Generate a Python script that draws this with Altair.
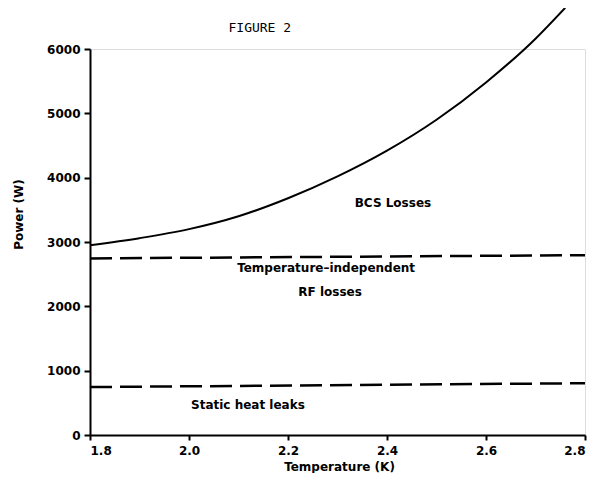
import altair as alt
import pandas as pd

# BCS losses curve (total power incl. RF + static)
bcs_T = [1.8, 1.9, 2.0, 2.1, 2.2, 2.3, 2.4, 2.5, 2.6, 2.7, 2.76]
bcs_P = [2950, 3060, 3200, 3400, 3680, 4020, 4420, 4900, 5480, 6160, 6640]

# dashed boundaries
rf_T = [1.8, 2.8]
rf_P = [2745, 2795]
static_T = [1.8, 2.8]
static_P = [745, 805]

# annotations
ann_text = ["BCS Losses", "Temperature\u2013independent", "RF losses", "Static heat leaks"]
ann_T = [2.412, 2.277, 2.285, 2.119]
ann_P = [3606, 2596, 2223, 466]

fig_title = ["FIGURE 2"]
fig_T = [2.143]
fig_P = [6327]

x_ticks = [1.8, 2.0, 2.2, 2.4, 2.6, 2.8]
y_ticks = [0, 1000, 2000, 3000, 4000, 5000, 6000]

FONT = "DejaVu Sans"

df_bcs = pd.DataFrame({"T": bcs_T, "P": bcs_P})
df_dash = pd.DataFrame({
    "T": rf_T + static_T,
    "P": rf_P + static_P,
    "s": ["rf"] * len(rf_T) + ["static"] * len(static_T),
})
df_ann = pd.DataFrame({"T": ann_T, "P": ann_P, "t": ann_text})
df_fig = pd.DataFrame({"T": fig_T, "P": fig_P, "t": fig_title})

xs = alt.Scale(domain=[1.8, 2.8], nice=False, zero=False)
ys = alt.Scale(domain=[0, 6000], nice=False)

xax = alt.Axis(values=x_ticks, format=".1f", title="Temperature (K)", grid=False,
               domainColor="black", domainWidth=2, tickColor="black", tickWidth=2, tickSize=5,
               labelColor="black", labelFont=FONT, labelFontSize=12, labelFontWeight="bold", labelPadding=5,
               titleFont=FONT, titleFontSize=12, titleFontWeight="bold", titleColor="black",
               titleX=249, titleY=31, titleBaseline="middle", titleAnchor="start", titleAlign="center")
yax = alt.Axis(values=y_ticks, format="d", title="Power (W)", grid=False,
               domainColor="black", domainWidth=2, tickColor="black", tickWidth=2, tickSize=6,
               labelColor="black", labelFont=FONT, labelFontSize=12, labelFontWeight="bold", labelPadding=4,
               titleFont=FONT, titleFontSize=12, titleFontWeight="bold", titleColor="black",
               titleX=-72, titleY=165, titleBaseline="middle", titleAngle=-90,
               titleAnchor="start", titleAlign="center")

curve = alt.Chart(df_bcs).mark_line(color="black", strokeWidth=2, clip=False, interpolate="monotone").encode(
    x=alt.X("T:Q", scale=xs, axis=xax),
    y=alt.Y("P:Q", scale=ys, axis=yax),
)

dashes = alt.Chart(df_dash).mark_line(color="black", strokeWidth=2.5, strokeDash=[22, 8]).encode(
    x=alt.X("T:Q", scale=xs),
    y=alt.Y("P:Q", scale=ys),
    detail="s:N",
)

texts = alt.Chart(df_ann).mark_text(font=FONT, fontSize=12, fontWeight="bold", color="black", align="center",
                                    baseline="middle", clip=False).encode(
    x=alt.X("T:Q", scale=xs),
    y=alt.Y("P:Q", scale=ys),
    text="t:N",
)

fig = alt.Chart(df_fig).mark_text(font="DejaVu Sans Mono", fontSize=13, color="black", align="center",
                                  baseline="middle", clip=False).encode(
    x=alt.X("T:Q", scale=xs),
    y=alt.Y("P:Q", scale=ys),
    text="t:N",
)

chart = alt.layer(curve, dashes, texts, fig).properties(
    width=495, height=386,
    autosize=alt.AutoSizeParams(type="none"),
    padding={"left": 82, "top": 41, "right": 13, "bottom": 38},
).configure_view(stroke=None).configure(background="white")

chart.save("out.html", embed_options={"renderer": "svg", "actions": False})
